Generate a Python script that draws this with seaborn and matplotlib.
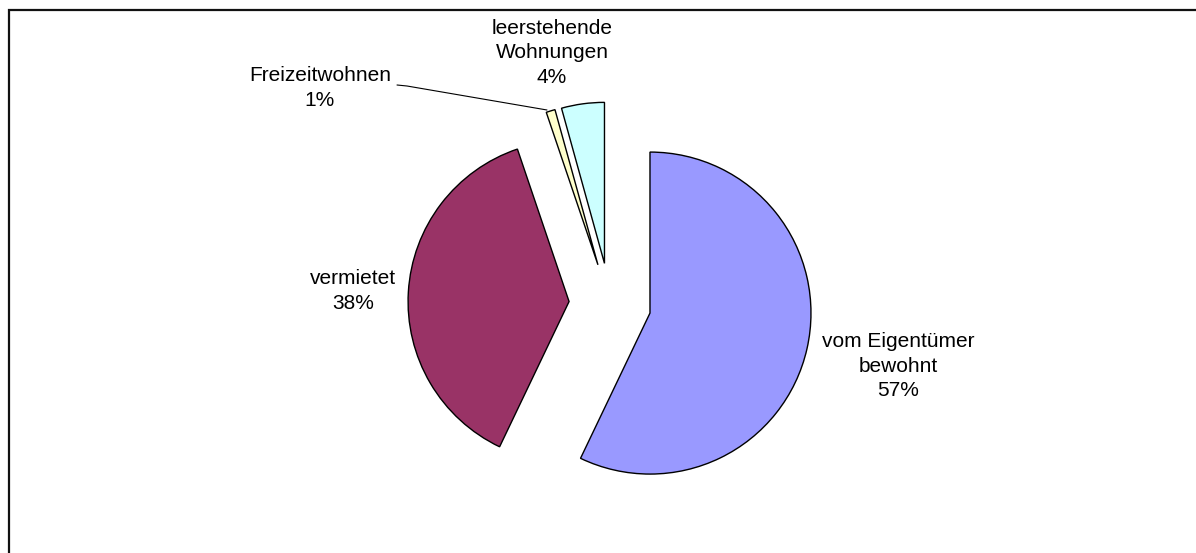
import matplotlib
matplotlib.use("Agg")
import matplotlib.pyplot as plt
from matplotlib.patches import Rectangle
import seaborn as sns

# Wohnungen nach Nutzung (Anteile in %)
labels = ["vom Eigentümer\nbewohnt", "vermietet", "Freizeitwohnen", "leerstehende\nWohnungen"]
values = [57.1, 37.7, 0.9, 4.3]
colors = ["#9999FF", "#993366", "#FFFFCC", "#CCFFFF"]

sns.set_theme(style="white")
plt.rcParams['font.family'] = ['Liberation Sans', 'DejaVu Sans']

W, H = 1196, 553
fig = plt.figure(figsize=(W / 100, H / 100), dpi=100)
ax = fig.add_axes([0, 0, 1, 1])

# pie in pixel-like data coordinates (y up); explode is in data units here
wedges, _ = ax.pie(values, colors=colors, startangle=90, counterclock=False,
                   explode=[41] * len(values), radius=161, center=(610, 249),
                   wedgeprops=dict(edgecolor="black", linewidth=1.0))
ax.set_xlim(0, W)
ax.set_ylim(0, H)
ax.set_aspect("equal")
ax.axis("off")

txt = dict(ha="center", va="center", fontsize=15, color="black", linespacing=1.35)
pos = [(898, 553 - 366), (353, 553 - 291), (320, 553 - 88), (552, 553 - 53)]
for lab, v, (x, y) in zip(labels, values, pos):
    ax.text(x, y, f"{lab}\n{v:.0f}%", **txt)

# leader line for the small slice
ax.plot([397, 407, 547], [553 - 85, 553 - 86, 553 - 110], color="black", lw=0.8)

# chart area border (runs off the right and bottom edge)
fig.patches.append(Rectangle((8.5 / W, -0.2), 1.5, 1.2 - 9.5 / H, transform=fig.transFigure,
                             fill=False, edgecolor="#111111", linewidth=1.6))

fig.savefig("out.png", dpi=100)
